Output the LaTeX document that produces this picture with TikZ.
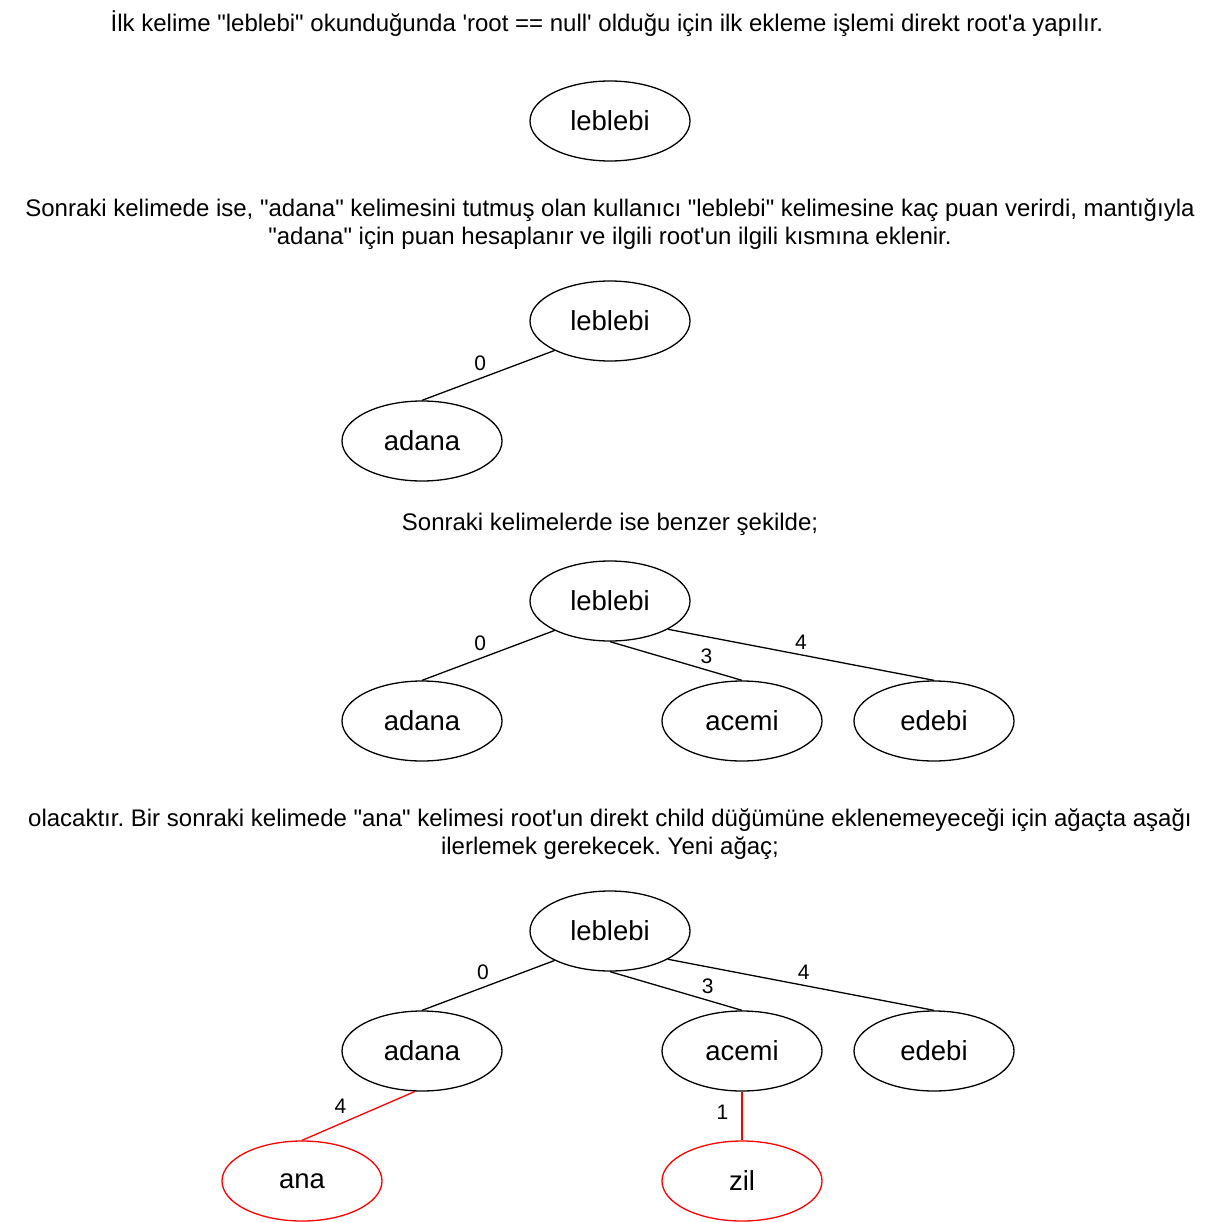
\documentclass[tikz,border=0pt]{standalone}
\usepackage{fontspec}
\setmainfont{Liberation Sans}
\usetikzlibrary{shapes.geometric}
\newcommand{\q}{\textquotesingle}
\newcommand{\dq}{\textquotedbl}
\frenchspacing
\begin{document}
\begin{tikzpicture}[x=1pt, y=-1pt,
	word/.style={ellipse, draw, line width=1.3pt, minimum width=160pt, minimum height=80pt, inner sep=0pt, font=\fontsize{27.5}{32}\selectfont},
	newword/.style={word, draw=red},
	note/.style={align=center, font=\fontsize{24}{28}\selectfont},
	link/.style={line width=1.3pt},
	newlink/.style={link, red},
	score/.style={font=\fontsize{21}{24}\selectfont, text=black, inner sep=2pt}]
	\useasboundingbox (0,0) rectangle (1222,1222);
	% first step
	\node[note] (t1) at (607,24) {İlk kelime \dq leblebi\dq{} okunduğunda \q root == null\q{} olduğu için ilk ekleme işlemi direkt root\q a yapılır.};
	\node[word] (la) at (610,121) {leblebi};
	% second step
	\node[note] (t2) at (610,224) {Sonraki kelimede ise, \dq adana\dq{} kelimesini tutmuş olan kullanıcı \dq leblebi\dq{} kelimesine kaç puan verirdi, mantığıyla\\\dq adana\dq{} için puan hesaplanır ve ilgili root\q un ilgili kısmına eklenir.};
	\node[word] (lb) at (610,321) {leblebi};
	\node[word] (ab) at (422,441) {adana};
	\draw[link] (lb.208) -- (ab.north) node[score, pos=.56, above=5pt] {0};
	% third step
	\node[note] (t3) at (610,524) {Sonraki kelimelerde ise benzer şekilde;};
	\node[word] (lc) at (610,601) {leblebi};
	\node[word] (ac) at (422,721) {adana};
	\node[word] (mc) at (742,721) {acemi};
	\node[word] (ec) at (934,721) {edebi};
	\draw[link] (lc.208) -- (ac.north) node[score, pos=.56, above=5pt] {0};
	\draw[link] (lc.south) -- (mc.north) node[score, pos=.73, above=4pt] {3};
	\draw[link] (lc.-26) -- (ec.north) node[score, midway, above=3pt] {4};
	% fourth step
	\node[note] (t4) at (610,834) {olacaktır. Bir sonraki kelimede \dq ana\dq{} kelimesi root\q un direkt child düğümüne eklenemeyeceği için ağaçta aşağı\\ilerlemek gerekecek. Yeni ağaç;};
	\node[word] (ld) at (610,931) {leblebi};
	\node[word] (ad) at (422,1051) {adana};
	\node[word] (md) at (742,1051) {acemi};
	\node[word] (ed) at (934,1051) {edebi};
	\node[newword] (na) at (302,1181) {ana};
	\node[newword] (nz) at (742,1181) {zil};
	\draw[link] (ld.208) -- (ad.north) node[score, pos=.54, above=5pt] {0};
	\draw[link] (ld.south) -- (md.north) node[score, pos=.74, above=4pt] {3};
	\draw[link] (ld.-26) -- (ed.north) node[score, pos=.51, above=3pt] {4};
	\draw[newlink] (ad.260) -- (na.north) node[score, pos=.66, above=8pt] {4};
	\draw[newlink] (md.south) -- (nz.north) node[score, pos=.42, left=11pt] {1};
\end{tikzpicture}
\end{document}
